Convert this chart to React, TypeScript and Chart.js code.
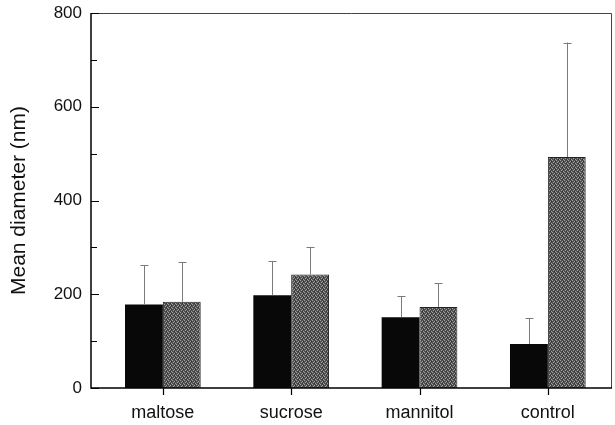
import React, { useEffect, useRef } from "react";
import { Chart, registerables } from "chart.js";

Chart.register(...registerables);

// Sample categories and measured mean diameters (nm) with standard deviations
const categories = ["maltose", "sucrose", "mannitol", "control"];
const seriesA = [178, 198, 151, 94];
const errorsA = [84, 73, 45, 55];
const seriesB = [184, 242, 173, 493];
const errorsB = [84, 59, 50, 244];
const yMajorTicks = [0, 200, 400, 600, 800];
const yMinorTicks = [100, 300, 500, 700];

const FONT = "'Liberation Sans', Arial, Helvetica, sans-serif";

// Stippled dark-gray fill used for the second series
function makeStipple(): CanvasPattern | string {
  const c = document.createElement("canvas");
  c.width = 4;
  c.height = 4;
  const g = c.getContext("2d");
  if (!g) return "#5a5a5a";
  g.fillStyle = "#505050";
  g.fillRect(0, 0, 4, 4);
  g.fillStyle = "#a0a0a0";
  g.fillRect(0, 0, 1, 1);
  g.fillRect(2, 1, 1, 1);
  g.fillRect(1, 2, 1, 1);
  g.fillRect(3, 3, 1, 1);
  g.fillStyle = "#2e2e2e";
  g.fillRect(2, 3, 1, 1);
  g.fillRect(3, 1, 1, 1);
  const p = g.createPattern(c, "repeat");
  return p || "#5a5a5a";
}

const errorBarsPlugin = {
  id: "errorBars",
  afterDatasetsDraw(chart: any) {
    const ctx = chart.ctx;
    const y = chart.scales.y;
    const errs = [errorsA, errorsB];
    const vals = [seriesA, seriesB];
    ctx.save();
    ctx.strokeStyle = "#7a7a7a";
    ctx.lineWidth = 1;
    chart.data.datasets.forEach((_: any, di: number) => {
      const meta = chart.getDatasetMeta(di);
      meta.data.forEach((el: any, i: number) => {
        const x = Math.round(el.x) + 0.5;
        const yTop = y.getPixelForValue(vals[di][i] + errs[di][i]);
        ctx.beginPath();
        ctx.moveTo(x, el.y);
        ctx.lineTo(x, yTop);
        ctx.moveTo(x - 4, Math.round(yTop) + 0.5);
        ctx.lineTo(x + 4, Math.round(yTop) + 0.5);
        ctx.stroke();
      });
    });
    ctx.restore();
  },
};

const framePlugin = {
  id: "frame",
  afterDraw(chart: any) {
    const ctx = chart.ctx;
    const { left, right, top, bottom } = chart.chartArea;
    const y = chart.scales.y;
    const x = chart.scales.x;
    ctx.save();
    // right and top border
    ctx.strokeStyle = "#444";
    ctx.lineWidth = 1;
    ctx.beginPath();
    ctx.moveTo(left, top + 0.5);
    ctx.lineTo(right - 0.5, top + 0.5);
    ctx.lineTo(right - 0.5, bottom);
    ctx.stroke();
    // left and bottom axes
    ctx.strokeStyle = "#000";
    ctx.lineWidth = 1.5;
    ctx.beginPath();
    ctx.moveTo(left, top);
    ctx.lineTo(left, bottom);
    ctx.lineTo(right, bottom);
    ctx.stroke();
    // inward y ticks
    ctx.lineWidth = 1.2;
    ctx.beginPath();
    yMajorTicks.forEach((v) => {
      const py = Math.round(y.getPixelForValue(v)) + 0.5;
      ctx.moveTo(left, py);
      ctx.lineTo(left + 8, py);
    });
    yMinorTicks.forEach((v) => {
      const py = Math.round(y.getPixelForValue(v)) + 0.5;
      ctx.moveTo(left, py);
      ctx.lineTo(left + 6, py);
    });
    // downward x ticks at category centres
    categories.forEach((_, i) => {
      const px = Math.round(x.getPixelForValue(i)) + 0.5;
      ctx.moveTo(px, bottom);
      ctx.lineTo(px, bottom + 7);
    });
    ctx.stroke();
    ctx.restore();
  },
};

export default function App() {
  const ref = useRef<HTMLCanvasElement | null>(null);

  useEffect(() => {
    document.body.style.margin = "0";
    const canvas = ref.current;
    if (!canvas) return;
    const stipple = makeStipple();
    const chart = new Chart(canvas, {
      type: "bar",
      data: {
        datasets: [
          {
            label: "A",
            data: seriesA.map((v, i) => ({ x: i, y: v })),
            backgroundColor: "#080808",
            borderWidth: 0,
          },
          {
            label: "B",
            data: seriesB.map((v, i) => ({ x: i, y: v })),
            backgroundColor: stipple as any,
            borderColor: "#222",
            borderWidth: 1,
          },
        ],
      },
      options: {
        animation: false,
        responsive: false,
        maintainAspectRatio: false,
        devicePixelRatio: 1,
        layout: { padding: { top: 13, right: 3, left: 0, bottom: 0 } },
        datasets: {
          bar: { barPercentage: 1, categoryPercentage: 0.59 },
        },
        plugins: {
          legend: { display: false },
          tooltip: { enabled: false },
        },
        scales: {
          x: {
            type: "linear",
            offset: false,
            min: -0.56,
            max: 3.5,
            afterBuildTicks: (scale: any) => {
              scale.ticks = categories.map((_, i) => ({ value: i }));
            },
            afterFit: (scale: any) => {
              scale.height = 37;
              scale.paddingLeft = 0;
              scale.paddingRight = 0;
            },
            grid: { display: false, drawTicks: false, offset: false },
            border: { display: false },
            ticks: {
              padding: 14,
              color: "#111",
              font: { family: FONT, size: 18 },
              callback: (v: any) => categories[Number(v)] ?? "",
              maxRotation: 0,
              autoSkip: false,
            },
          },
          y: {
            min: 0,
            max: 800,
            afterBuildTicks: (scale: any) => {
              scale.ticks = yMajorTicks.map((v) => ({ value: v }));
            },
            afterFit: (scale: any) => {
              scale.width = 91;
              scale.paddingTop = 0;
              scale.paddingBottom = 0;
            },
            grid: { display: false, drawTicks: false },
            border: { display: false },
            ticks: {
              padding: 9,
              color: "#111",
              font: { family: FONT, size: 17 },
            },
            title: {
              display: true,
              text: "Mean diameter (nm)",
              color: "#111",
              font: { family: FONT, size: 21 },
              padding: { top: 7, bottom: 0 },
            },
          },
        },
      },
      plugins: [errorBarsPlugin, framePlugin],
    });
    return () => chart.destroy();
  }, []);

  return (
    <div style={{ position: "absolute", left: 0, top: 0, width: 615, height: 425, background: "#fff" }}>
      <canvas ref={ref} width={615} height={425} style={{ display: "block" }} />
    </div>
  );
}
